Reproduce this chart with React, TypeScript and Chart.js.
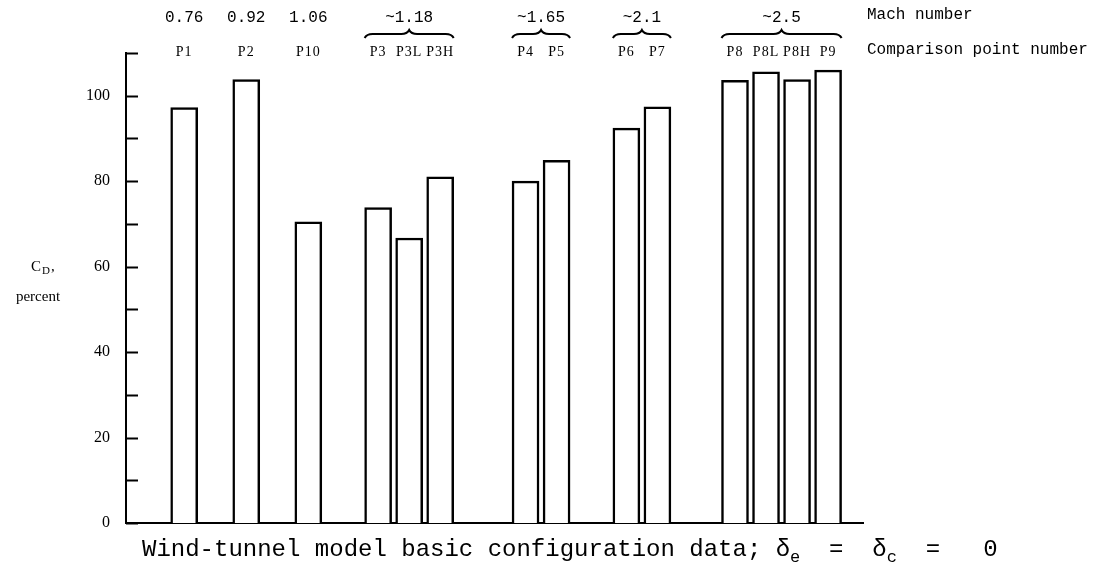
import React, { useEffect, useRef } from 'react';
import { Chart, registerables } from 'chart.js';

Chart.register(...registerables);

// ---- data ----
const pointLabels = ['P1', 'P2', 'P10', 'P3', 'P3L', 'P3H', 'P4', 'P5', 'P6', 'P7', 'P8', 'P8L', 'P8H', 'P9'];
const cdPercent = [97.2, 103.8, 70.5, 73.8, 66.7, 81.0, 80.0, 84.9, 92.4, 97.4, 103.6, 105.6, 103.8, 106.0];
const machNumbers = ['0.76', '0.92', '1.06', '~1.18', '~1.65', '~2.1', '~2.5'];
const machGroupSizes = [1, 1, 1, 3, 2, 2, 4];
const yTickLabels = [0, 20, 40, 60, 80, 100];

// ---- layout (category slots) ----
const LEAD_SLOTS = 7;
const PITCH_SLOTS = 4;
const GROUP_GAP_SLOTS = [8, 8, 9, 11, 9, 10];
const TRAIL_SLOTS = 4;

function buildTable() {
  const labels: string[] = [];
  const values: (number | null)[] = [];
  const barSlots: number[] = [];
  const spacer = (n: number) => {
    for (let k = 0; k < n; k++) {
      labels.push('');
      values.push(null);
    }
  };
  spacer(LEAD_SLOTS);
  let p = 0;
  machGroupSizes.forEach((size, g) => {
    if (g > 0) spacer(GROUP_GAP_SLOTS[g - 1] - 1);
    for (let j = 0; j < size; j++) {
      if (j > 0) spacer(PITCH_SLOTS - 1);
      barSlots.push(labels.length);
      labels.push(pointLabels[p]);
      values.push(cdPercent[p]);
      p++;
    }
  });
  spacer(TRAIL_SLOTS);
  return { labels, values, barSlots };
}

const SERIF = '"Liberation Serif", "DejaVu Serif", serif';
const MONO = '"Liberation Mono", "DejaVu Sans Mono", monospace';
const BAR_W = 27;

export default function App() {
  const ref = useRef<HTMLCanvasElement | null>(null);

  useEffect(() => {
    if (!ref.current) return;
    const { labels, values, barSlots } = buildTable();

    const annotations = {
      id: 'annotations',
      afterDraw(chart: any) {
        const ctx = chart.ctx as CanvasRenderingContext2D;
        const xs = chart.scales.x;
        const ys = chart.scales.y;
        const area = chart.chartArea;
        ctx.save();
        ctx.fillStyle = '#000';
        ctx.strokeStyle = '#000';

        // inward tick marks on y axis
        ctx.lineWidth = 2;
        ys.ticks.forEach((t: any) => {
          const y = Math.round(ys.getPixelForValue(t.value)) + 0.5;
          ctx.beginPath();
          ctx.moveTo(area.left, y);
          ctx.lineTo(area.left + 12, y);
          ctx.stroke();
        });

        // point labels
        ctx.font = `14px ${SERIF}`;
        ctx.textAlign = 'center';
        ctx.textBaseline = 'middle';
        (ctx as any).letterSpacing = '1px';
        const barX = barSlots.map((s) => xs.getPixelForValue(s));
        barX.forEach((x, i) => ctx.fillText(pointLabels[i], x, 52));
        (ctx as any).letterSpacing = '0px';

        // mach numbers + braces
        let p = 0;
        machGroupSizes.forEach((size, g) => {
          const x1 = barX[p];
          const x2 = barX[p + size - 1];
          const mid = (x1 + x2) / 2;
          ctx.font = `16px ${MONO}`;
          ctx.textAlign = 'center';
          ctx.fillText(machNumbers[g], mid, 18);
          if (size > 1) {
            const l = x1 - BAR_W / 2;
            const r = x2 + BAR_W / 2;
            const y0 = 38;
            const k = 4;
            ctx.lineWidth = 2;
            ctx.beginPath();
            ctx.moveTo(l, y0);
            ctx.quadraticCurveTo(l + 2, y0 - k, l + 2 * k, y0 - k);
            ctx.lineTo(mid - 2 * k, y0 - k);
            ctx.quadraticCurveTo(mid - 2, y0 - k, mid, y0 - 2 * k);
            ctx.quadraticCurveTo(mid + 2, y0 - k, mid + 2 * k, y0 - k);
            ctx.lineTo(r - 2 * k, y0 - k);
            ctx.quadraticCurveTo(r - 2, y0 - k, r, y0);
            ctx.stroke();
          }
          p += size;
        });

        // right-side row labels
        ctx.font = `16px ${MONO}`;
        ctx.textAlign = 'left';
        ctx.fillText('Mach number', 867, 15);
        ctx.fillText('Comparison point number', 867, 50);

        // y-axis title
        ctx.font = `15px ${SERIF}`;
        ctx.textAlign = 'left';
        ctx.fillText('C', 31, 267);
        ctx.font = `11px ${SERIF}`;
        ctx.fillText('D', 42, 271);
        ctx.font = `15px ${SERIF}`;
        ctx.fillText(',', 51, 267);
        ctx.textAlign = 'center';
        ctx.fillText('percent', 38, 297);

        // bottom caption
        ctx.textAlign = 'left';
        let x = 142;
        const yb = 550;
        const seg = (txt: string, size: number, dy: number) => {
          ctx.font = `${size}px ${MONO}`;
          ctx.fillText(txt, x, yb + dy);
          x += ctx.measureText(txt).width;
        };
        seg('Wind-tunnel model basic configuration data; ', 24, 0);
        seg('\u03b4', 24, 0);
        seg('e', 17, 7);
        seg('  =  ', 24, 0);
        seg('\u03b4', 24, 0);
        seg('c', 17, 7);
        seg('  =   0', 24, 0);

        ctx.restore();
      },
    };

    const chart = new Chart(ref.current, {
      type: 'bar',
      data: {
        labels,
        datasets: [
          {
            data: values,
            backgroundColor: '#ffffff',
            borderColor: '#000000',
            borderWidth: 2.5,
            barThickness: BAR_W,
          },
        ],
      },
      options: {
        animation: false,
        responsive: false,
        devicePixelRatio: 1,
        layout: { padding: { top: 53, right: 233, bottom: 0, left: 0 } },
        plugins: { legend: { display: false }, tooltip: { enabled: false }, title: { display: false } },
        scales: {
          x: {
            type: 'category',
            grid: { display: false, drawTicks: false },
            ticks: { display: false },
            border: { display: true, color: '#000', width: 2 },
            afterFit: (s: any) => {
              s.height = 47;
            },
          },
          y: {
            min: 0,
            max: 110,
            grid: { display: false, drawTicks: false },
            border: { display: true, color: '#000', width: 2 },
            ticks: {
              stepSize: 10,
              padding: 16,
              color: '#000',
              font: { family: SERIF, size: 16 },
              callback: (v: any) => (yTickLabels.includes(Number(v)) ? String(v) : ''),
            },
            afterFit: (s: any) => {
              s.width = 126;
            },
          },
        },
      },
      plugins: [annotations],
    });
    return () => chart.destroy();
  }, []);

  return (
    <div style={{ position: 'absolute', left: 0, top: 0, width: 1096, height: 570, background: '#fff' }}>
      <canvas ref={ref} width={1096} height={570} style={{ display: 'block' }} />
    </div>
  );
}
